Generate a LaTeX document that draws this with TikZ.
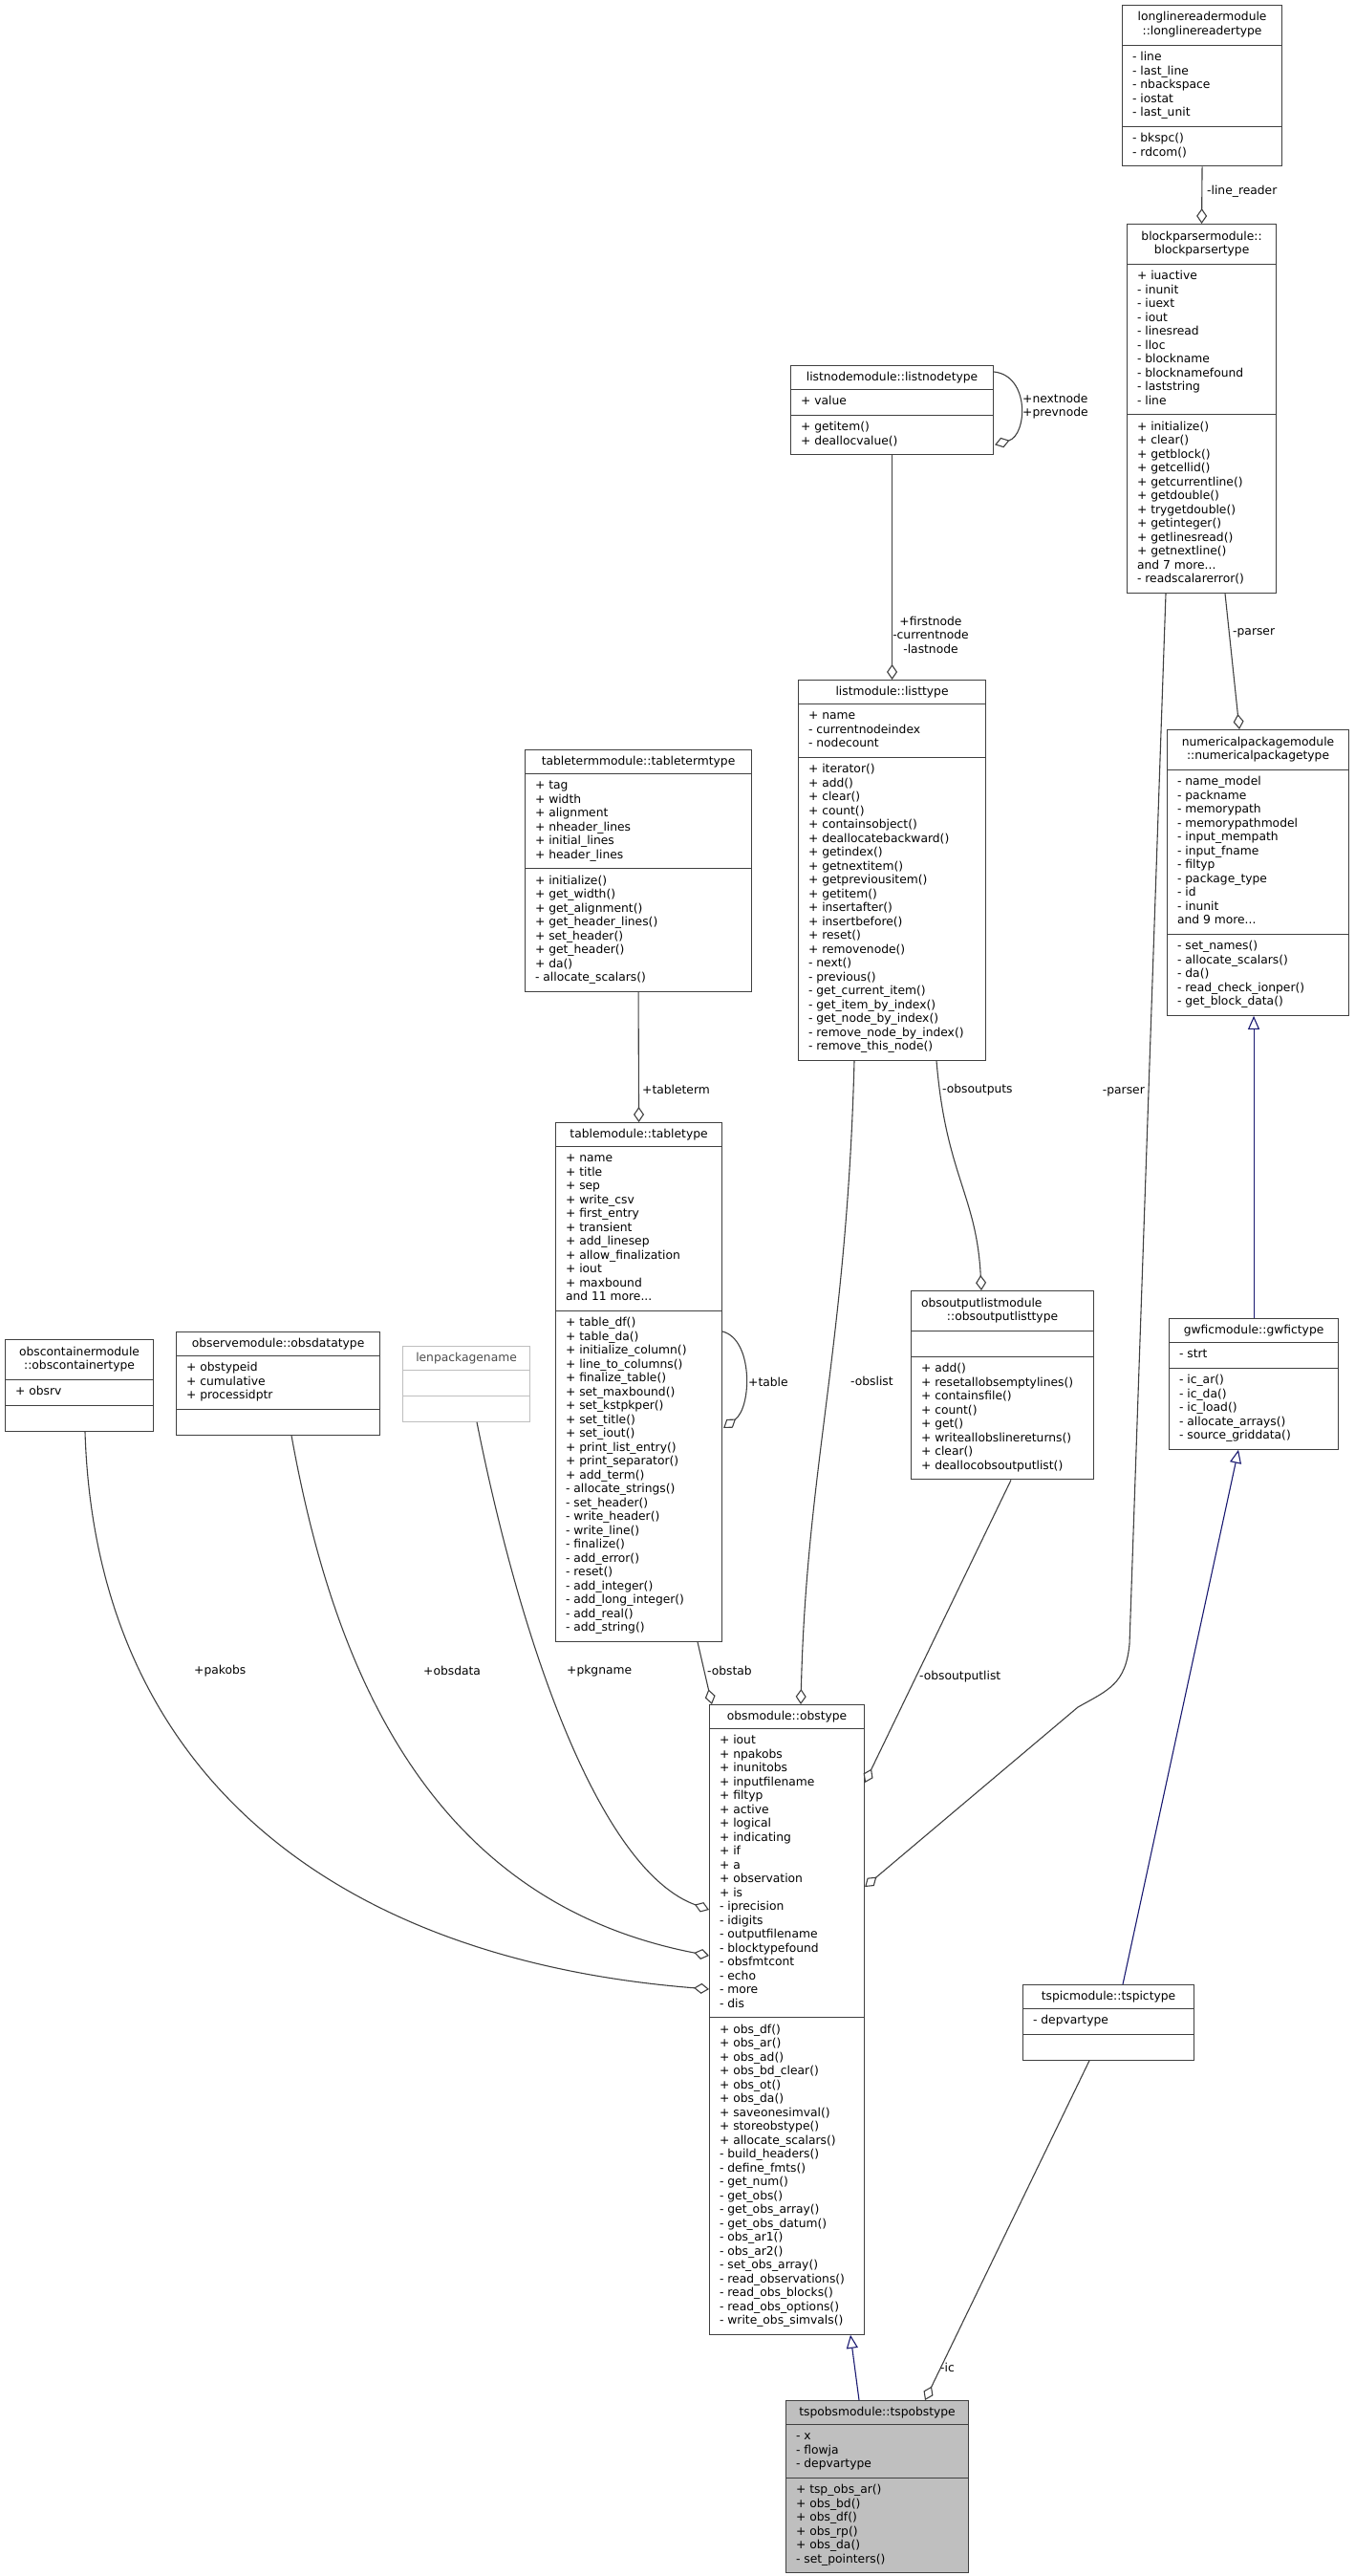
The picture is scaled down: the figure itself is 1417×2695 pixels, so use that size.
\documentclass[tikz,border=0pt]{standalone}
\usepackage{fontspec}
\setmainfont{DejaVu Sans}
\usetikzlibrary{shapes.multipart, arrows.meta, calc}

\definecolor{edgegray}{HTML}{404040}
\definecolor{inhblue}{HTML}{191970}
\definecolor{boxgray}{HTML}{BFBFBF}
\newcommand\dox{\fontsize{12.3}{14.5}\selectfont}
\newcommand\ctr[1]{\begin{tabular}{@{}c@{}}#1\end{tabular}}
\newcommand\lst[1]{\begin{tabular}{@{}l@{}}#1\end{tabular}}

\begin{document}
\begin{tikzpicture}[
  x=1pt, y=-1pt,
  every node/.style={font=\dox},
  cls/.style={
    rectangle split, rectangle split parts=3,
    rectangle split part align={center,left,left},
    draw=edgegray, line width=1.1pt, fill=white,
    inner xsep=10.5pt, inner ysep=5.75pt, anchor=north west},
  agg/.style={
    -{Diamond[open, length=16pt, width=11pt]},
    draw=edgegray, line width=1.1pt},
  inh/.style={
    -{Triangle[open, length=14pt, width=12pt]},
    draw=inhblue, line width=1.1pt},
  lbl/.style={inner sep=0pt},
]
\useasboundingbox (0,0) rectangle (1417,2695);

\node[cls, minimum width=167pt] (lrt) at (1174,5)
  {\ctr{longlinereadermodule\\::longlinereadertype}
   \nodepart{two}\lst{- line\\- last\_line\\- nbackspace\\- iostat\\- last\_unit}
   \nodepart{three}\lst{- bkspc()\\- rdcom()}};

\node[cls, minimum width=156pt] (bpt) at (1179,234)
  {\ctr{blockparsermodule::\\blockparsertype}
   \nodepart{two}\lst{+ iuactive\\- inunit\\- iuext\\- iout\\- linesread\\- lloc\\- blockname\\- blocknamefound\\- laststring\\- line}
   \nodepart{three}\lst{+ initialize()\\+ clear()\\+ getblock()\\+ getcellid()\\+ getcurrentline()\\+ getdouble()\\+ trygetdouble()\\+ getinteger()\\+ getlinesread()\\+ getnextline()\\and 7 more...\\- readscalarerror()}};

\node[cls, minimum width=212pt] (lnt) at (827,382)
  {listnodemodule::listnodetype
   \nodepart{two}\lst{+ value}
   \nodepart{three}\lst{+ getitem()\\+ deallocvalue()}};

\node[cls, minimum width=196pt] (ltt) at (835,711)
  {listmodule::listtype
   \nodepart{two}\lst{+ name\\- currentnodeindex\\- nodecount}
   \nodepart{three}\lst{+ iterator()\\+ add()\\+ clear()\\+ count()\\+ containsobject()\\+ deallocatebackward()\\+ getindex()\\+ getnextitem()\\+ getpreviousitem()\\+ getitem()\\+ insertafter()\\+ insertbefore()\\+ reset()\\+ removenode()\\- next()\\- previous()\\- get\_current\_item()\\- get\_item\_by\_index()\\- get\_node\_by\_index()\\- remove\_node\_by\_index()\\- remove\_this\_node()}};

\node[cls, minimum width=190pt] (npt) at (1221,763)
  {\ctr{numericalpackagemodule\\::numericalpackagetype}
   \nodepart{two}\lst{- name\_model\\- packname\\- memorypath\\- memorypathmodel\\- input\_mempath\\- input\_fname\\- filtyp\\- package\_type\\- id\\- inunit\\and 9 more...}
   \nodepart{three}\lst{- set\_names()\\- allocate\_scalars()\\- da()\\- read\_check\_ionper()\\- get\_block\_data()}};

\node[cls, minimum width=237pt] (ttt) at (549,784)
  {tabletermmodule::tabletermtype
   \nodepart{two}\lst{+ tag\\+ width\\+ alignment\\+ nheader\_lines\\+ initial\_lines\\+ header\_lines}
   \nodepart{three}\lst{+ initialize()\\+ get\_width()\\+ get\_alignment()\\+ get\_header\_lines()\\+ set\_header()\\+ get\_header()\\+ da()\\- allocate\_scalars()}};

\node[cls, minimum width=174pt] (tbt) at (581,1174)
  {tablemodule::tabletype
   \nodepart{two}\lst{+ name\\+ title\\+ sep\\+ write\_csv\\+ first\_entry\\+ transient\\+ add\_linesep\\+ allow\_finalization\\+ iout\\+ maxbound\\and 11 more...}
   \nodepart{three}\lst{+ table\_df()\\+ table\_da()\\+ initialize\_column()\\+ line\_to\_columns()\\+ finalize\_table()\\+ set\_maxbound()\\+ set\_kstpkper()\\+ set\_title()\\+ set\_iout()\\+ print\_list\_entry()\\+ print\_separator()\\+ add\_term()\\- allocate\_strings()\\- set\_header()\\- write\_header()\\- write\_line()\\- finalize()\\- add\_error()\\- reset()\\- add\_integer()\\- add\_long\_integer()\\- add\_real()\\- add\_string()}};

\node[cls, minimum width=155pt] (oct) at (5,1401)
  {\ctr{obscontainermodule\\::obscontainertype}
   \nodepart{two}\lst{+ obsrv}
   \nodepart{three}\strut};

\node[cls, minimum width=213pt] (odt) at (184,1393)
  {observemodule::obsdatatype
   \nodepart{two}\lst{+ obstypeid\\+ cumulative\\+ processidptr}
   \nodepart{three}\strut};

\node[cls, minimum width=133pt, draw=boxgray, text=black!70] (lpn) at (421,1408)
  {lenpackagename
   \nodepart{two}\strut
   \nodepart{three}\strut};

\node[cls, minimum width=191pt, rectangle split part align={left,left,left}] (olt) at (953,1350)
  {\lst{obsoutputlistmodule\\\makebox[170pt][c]{::obsoutputlisttype}}
   \nodepart{two}\strut
   \nodepart{three}\lst{+ add()\\+ resetallobsemptylines()\\+ containsfile()\\+ count()\\+ get()\\+ writeallobslinereturns()\\+ clear()\\+ deallocobsoutputlist()}};

\node[cls, minimum width=177pt] (gwf) at (1223,1379)
  {gwficmodule::gwfictype
   \nodepart{two}\lst{- strt}
   \nodepart{three}\lst{- ic\_ar()\\- ic\_da()\\- ic\_load()\\- allocate\_arrays()\\- source\_griddata()}};

\node[cls, minimum width=162pt] (obt) at (742,1783)
  {obsmodule::obstype
   \nodepart{two}\lst{+ iout\\+ npakobs\\+ inunitobs\\+ inputfilename\\+ filtyp\\+ active\\+ logical\\+ indicating\\+ if\\+ a\\+ observation\\+ is\\- iprecision\\- idigits\\- outputfilename\\- blocktypefound\\- obsfmtcont\\- echo\\- more\\- dis}
   \nodepart{three}\lst{+ obs\_df()\\+ obs\_ar()\\+ obs\_ad()\\+ obs\_bd\_clear()\\+ obs\_ot()\\+ obs\_da()\\+ saveonesimval()\\+ storeobstype()\\+ allocate\_scalars()\\- build\_headers()\\- define\_fmts()\\- get\_num()\\- get\_obs()\\- get\_obs\_array()\\- get\_obs\_datum()\\- obs\_ar1()\\- obs\_ar2()\\- set\_obs\_array()\\- read\_observations()\\- read\_obs\_blocks()\\- read\_obs\_options()\\- write\_obs\_simvals()}};

\node[cls, minimum width=179pt] (tpc) at (1070,2076)
  {tspicmodule::tspictype
   \nodepart{two}\lst{- depvartype}
   \nodepart{three}\strut};

\node[cls, minimum width=191pt, fill=boxgray] (tpo) at (822,2511)
  {tspobsmodule::tspobstype
   \nodepart{two}\lst{- x\\- flowja\\- depvartype}
   \nodepart{three}\lst{+ tsp\_obs\_ar()\\+ obs\_bd()\\+ obs\_df()\\+ obs\_rp()\\+ obs\_da()\\- set\_pointers()}};

% aggregation
\draw[agg] (lrt.south) -- (bpt.north);
\node[lbl, anchor=west] (lblreader) at (1263,200) {-line\_reader};

\draw[agg] ($(lnt.north east)+(0,7)$) .. controls +(38,4) and +(34,-10) .. ($(lnt.south east)+(1,-11)$);
\node[lbl, anchor=west, align=left] (lblnext) at (1070,425) {+nextnode\\+prevnode};

\draw[agg] (lnt.south) -- (ltt.north);
\node[lbl, align=center] (lblfirst) at (974,664) {+firstnode\\-currentnode\\-lastnode};

\draw[agg] ($(bpt.south west)+(103,0)$) -- ($(npt.north west)+(76,0)$);
\node[lbl, anchor=west] (lblparser) at (1290,662) {-parser};

\draw[agg] ($(bpt.south west)+(41,0)$) -- (1182,1720)
  .. controls (1178,1762) and (1160,1768) .. (1128,1786)
  -- ($(obt.north east)+(0,191)$);
\node[lbl, anchor=east] (lblparser2) at (1198,1142) {-parser};

\draw[agg] (ttt.south) -- (tbt.north);
\node[lbl, anchor=west] (lbltterm) at (672,1140) {+tableterm};

\draw[agg] ($(tbt.north east)+(0,219)$) .. controls +(32,8) and +(30,-22) .. ($(tbt.north east)+(1,320)$);
\node[lbl, anchor=west] (lbltable) at (783,1446) {+table};

\draw[agg] ($(tbt.south west)+(149,0)$) -- ($(obt.north west)+(3,0)$);
\node[lbl, anchor=west] (lblobstab) at (740,1748) {-obstab};

\draw[agg] ($(ltt.south west)+(59,0)$) .. controls +(-8,300) and +(6,-250) .. ($(obt.north west)+(96,0)$);
\node[lbl, anchor=west] (lblobslist) at (890,1445) {-obslist};

\draw[agg] ($(ltt.south west)+(145,0)$) .. controls +(10,120) and +(-5,-100) .. ($(olt.north west)+(74,0)$);
\node[lbl, anchor=west] (lblouts) at (986,1140) {-obsoutputs};

\draw[agg] ($(olt.south west)+(105,0)$) -- ($(obt.north east)+(0,82)$);
\node[lbl, anchor=west] (lbloutlist) at (962,1754) {-obsoutputlist};

\draw[agg] ($(oct.south west)+(84,0)$) .. controls +(11,358) and +(-392,-31) .. ($(obt.north west)+(0,298)$);
\node[lbl, anchor=west] (lblpakobs) at (203,1748) {+pakobs};

\draw[agg] ($(odt.south west)+(121,0)$) .. controls +(45,250) and +(-290,-56) .. ($(obt.north west)+(0,263)$);
\node[lbl, anchor=west] (lblobsdata) at (443,1748) {+obsdata};

\draw[agg] ($(lpn.south west)+(78,0)$) .. controls +(50,250) and +(-110,-40) .. ($(obt.north west)+(0,215)$);
\node[lbl, anchor=west] (lblpkg) at (593,1748) {+pkgname};

\draw[agg] ($(tpc.south west)+(70,0)$) -- ($(tpo.north west)+(146,0)$);
\node[lbl, anchor=west] (lblic) at (984,2477) {-ic};

% inheritance
\draw[inh] (gwf.north) -- (gwf.north |- npt.south);
\draw[inh] ($(tpc.north west)+(105,0)$) -- ($(gwf.south west)+(73,0)$);
\draw[inh] ($(tpo.north west)+(77,0)$) -- ($(obt.south west)+(148,0)$);

\end{tikzpicture}
\end{document}
